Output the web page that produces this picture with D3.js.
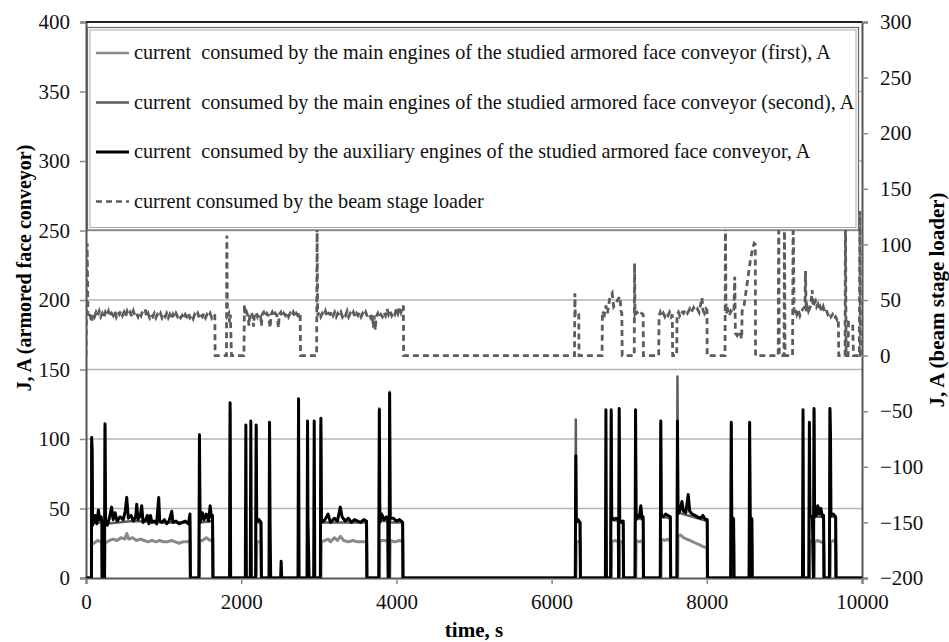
<!DOCTYPE html>
<html>
<head>
<meta charset="utf-8">
<script src="https://cdn.jsdelivr.net/npm/d3@7"></script>
<style>
  body { margin: 0; background: #fff; }
  text { font-family: "Liberation Serif", "Times New Roman", serif; }
</style>
</head>
<body>
<svg id="chart" width="949" height="642"></svg>
<script>
// time axis ticks and the two y axes
var timeTicks = [0, 2000, 4000, 6000, 8000, 10000];
var leftTicks = [0, 50, 100, 150, 200, 250, 300, 350, 400];
var rightTicks = [-200, -150, -100, -50, 0, 50, 100, 150, 200, 250, 300];

var legendLabels = [
  "current  consumed by the main engines of the studied armored face conveyor (first), A",
  "current  consumed by the main engines of the studied armored face conveyor (second), A",
  "current  consumed by the auxiliary engines of the studied armored face conveyor, A",
  "current consumed by the beam stage loader"
];

// [time s, current A]
var firstMain = [
  [0,0],[70,0],[73,24],[100,25],[150,27],[200,26],[208,0],[240,0],[245,25],[300,27],[350,28],[400,27],
  [450,29],[500,28],[525,32],[550,28],[600,29],[650,27],[700,28],[750,27],[800,26],[850,27],[900,26],
  [950,27],[1000,26],[1050,26],[1100,27],[1150,26],[1200,25],[1250,26],[1300,26],[1340,27],[1345,0],
  [1460,0],[1465,27],[1500,27],[1550,29],[1600,27],[1634,28],[1636,0],
  [2195,0],[2200,26],[2255,26],[2260,0],
  [3028,0],[3032,26],[3080,27],[3120,28],[3150,26],[3200,29],[3240,27],[3280,30],[3320,27],[3380,26],
  [3440,27],[3500,26],[3560,26],[3618,26],[3620,0],
  [3782,0],[3786,27],[3850,27],[3890,26],[3895,0],[3915,0],[3920,27],[3980,26],[4040,27],[4083,26],[4085,0],
  [6314,0],[6318,26],[6370,26],[6372,0],
  [6770,0],[6775,26],[6820,27],[6860,26],[6864,0],[6874,0],[6878,26],[6922,26],[6925,0],
  [7085,0],[7090,27],[7130,26],[7178,27],[7182,0],
  [7410,0],[7414,28],[7460,27],[7500,28],[7530,26],[7533,0],
  [7625,0],[7629,30],[7660,31],[7700,29],[7740,28],[7780,27],[7820,26],[7860,25],[7900,24],[7940,23],
  [7980,22],[8003,21],[8007,0],
  [8318,0],[8322,26],[8348,26],[8350,0],
  [8555,0],[8559,26],[8583,26],[8585,0],
  [9325,0],[9330,27],[9372,26],[9375,0],[9385,0],[9390,26],[9430,27],[9470,26],[9508,25],[9511,0],
  [9590,0],[9595,26],[9630,27],[9661,26],[9664,0],[10000,0]
];

var secondMain = [
  [0,0],[70,0],[73,95],[80,40],[205,40],[208,0],[238,0],[245,108],[252,39],[600,41],[1000,40],
  [1340,40],[1345,0],
  [1455,0],[1462,100],[1470,40],[1634,41],[1636,0],
  [1850,0],[1857,120],[1864,0],
  [2186,0],[2193,108],[2200,40],[2255,40],[2260,0],
  [3020,0],[3027,110],[3034,40],[3618,40],[3620,0],
  [3773,0],[3780,122],[3787,41],[3890,41],[3895,0],[3906,0],[3913,134],[3920,40],[4083,40],[4085,0],
  [6305,0],[6312,114],[6318,41],[6370,40],[6372,0],
  [6761,0],[6768,118],[6775,42],[6860,41],[6864,0],[6871,120],[6878,41],[6923,40],[6928,0],
  [7075,0],[7082,118],[7089,43],[7180,42],[7185,0],
  [7400,0],[7407,110],[7414,44],[7530,43],[7535,0],
  [7615,0],[7622,145],[7629,47],[8005,41],[8010,0],
  [8308,0],[8315,110],[8322,43],[8348,43],[8350,0],
  [8545,0],[8552,110],[8559,43],[8583,43],[8585,0],
  [9315,0],[9322,110],[9329,44],[9372,44],[9375,0],[9382,120],[9389,44],[9505,44],[9511,0],
  [9580,0],[9587,120],[9594,44],[9663,44],[9665,0],[10000,0]
];

var auxEngine = [
  [0,0],[70,0],[73,101],[80,92],[85,38],[100,40],[120,45],[140,39],[160,49],[175,42],[195,44],[205,40],
  [208,0],[238,0],[245,111],[252,40],[275,38],[300,43],[330,51],[350,42],[375,47],[400,41],[440,44],
  [480,42],[505,48],[525,58],[545,43],[580,45],[610,41],[640,44],[654,53],[670,42],[700,45],[718,52],
  [735,40],[770,42],[790,45],[810,39],[830,45],[850,40],[880,41],[910,39],[937,58],[950,41],[980,40],
  [1010,42],[1040,39],[1070,41],[1105,48],[1120,40],[1160,41],[1200,39],[1240,40],[1280,41],[1320,39],
  [1340,46],[1345,0],
  [1455,0],[1462,103],[1470,40],[1500,47],[1520,42],[1550,46],[1580,41],[1600,52],[1615,44],[1630,45],[1636,0],
  [1850,0],[1857,126],[1864,0],
  [2053,0],[2060,110],[2067,0],[2117,0],[2124,113],[2131,0],[2186,0],[2193,110],[2200,41],[2230,42],
  [2255,40],[2260,0],
  [2358,0],[2365,112],[2372,40],[2380,0],
  [2508,0],[2515,12],[2522,0],
  [2732,0],[2739,129],[2746,0],[2848,0],[2855,113],[2860,43],[2875,0],[2934,0],[2941,113],[2948,0],
  [3020,0],[3027,115],[3034,40],[3060,41],[3080,42],[3120,46],[3150,40],[3200,43],[3240,41],[3277,51],
  [3300,44],[3340,41],[3380,43],[3420,40],[3460,42],[3500,41],[3540,40],[3580,42],[3615,41],[3620,0],
  [3773,0],[3780,121],[3787,40],[3810,46],[3840,42],[3870,44],[3890,42],[3895,0],[3906,0],[3913,133],
  [3920,43],[3960,43],[4000,41],[4040,42],[4080,40],[4085,0],
  [6305,0],[6312,88],[6318,40],[6340,42],[6365,40],[6372,0],
  [6693,0],[6700,121],[6707,0],[6761,0],[6768,121],[6775,44],[6800,42],[6830,43],[6860,42],[6864,0],
  [6871,122],[6878,42],[6900,40],[6923,41],[6928,0],
  [7075,0],[7082,121],[7089,42],[7110,45],[7130,44],[7150,52],[7165,43],[7180,44],[7185,0],
  [7400,0],[7407,113],[7414,45],[7440,44],[7470,46],[7500,45],[7530,44],[7535,0],
  [7615,0],[7622,113],[7629,46],[7650,48],[7680,55],[7700,48],[7730,47],[7760,60],[7780,48],[7810,46],
  [7850,45],[7880,44],[7920,43],[7950,45],[7980,42],[8005,42],[8010,0],
  [8308,0],[8315,112],[8322,44],[8345,42],[8350,0],
  [8545,0],[8552,112],[8559,44],[8580,42],[8585,0],
  [9233,0],[9240,121],[9247,0],[9315,0],[9322,112],[9329,45],[9360,44],[9375,0],[9382,122],[9389,44],
  [9410,45],[9430,52],[9450,46],[9470,50],[9490,44],[9505,45],[9511,0],
  [9580,0],[9587,122],[9594,104],[9600,45],[9630,46],[9660,44],[9665,0],[10000,0]
];

// beam stage loader, right axis
var beamLoader = [
  [0,0],[15,101],[25,36],[45,39],[60,34],[73,30],[90,38],[110,35],[130,39],[150,36],[170,40],[190,35],
  [210,38],[230,34],[250,39],[270,36],[290,40],[310,35],[330,38],[350,36],[370,40],[390,35],[410,39],
  [430,37],[450,40],[470,36],[490,39],[510,35],[530,40],[550,37],[570,39],[590,35],[610,40],[630,36],
  [650,38],[670,35],[690,39],[710,36],[730,40],[761,42],[780,35],[800,38],[820,34],[840,37],[860,35],
  [880,38],[900,34],[920,37],[940,35],[960,38],[980,34],[1000,37],[1020,35],[1040,38],[1060,34],
  [1080,37],[1100,33],[1120,37],[1140,34],[1160,38],[1180,35],[1200,37],[1220,34],[1240,36],[1260,33],
  [1280,37],[1300,35],[1320,38],[1340,34],[1360,36],[1380,33],[1400,37],[1420,35],[1440,38],[1460,34],
  [1480,37],[1500,35],[1520,38],[1540,34],[1560,37],[1580,35],[1600,38],[1620,34],[1640,37],[1660,36],
  [1664,0],
  [1810,0],[1815,108],[1822,36],[1840,38],[1850,30],[1860,37],[1875,0],
  [2035,0],[2042,46],[2050,36],[2070,39],[2090,35],[2100,27],[2110,36],[2130,39],[2150,35],[2160,26],
  [2170,37],[2190,39],[2210,35],[2230,38],[2250,36],[2260,27],[2270,37],[2290,39],[2310,35],[2330,38],
  [2350,36],[2374,25],[2385,37],[2400,39],[2420,35],[2440,38],[2460,36],[2481,25],[2490,37],[2510,39],
  [2530,35],[2550,38],[2570,36],[2590,39],[2610,35],[2630,38],[2650,36],[2670,39],[2690,35],[2710,38],
  [2730,36],[2750,39],[2760,37],[2765,0],
  [2972,0],[2978,115],[2985,36],[3005,39],[3025,35],[3045,38],[3065,36],[3085,40],[3105,35],[3125,38],
  [3145,37],[3165,40],[3185,36],[3205,39],[3225,35],[3245,38],[3265,36],[3285,39],[3305,35],[3325,38],
  [3345,36],[3365,40],[3385,35],[3405,38],[3425,36],[3445,39],[3465,35],[3485,38],[3505,36],[3525,39],
  [3545,35],[3565,38],[3585,36],[3605,39],[3625,35],[3650,37],[3670,34],[3690,37],[3703,25],[3712,36],
  [3728,23],[3740,35],[3760,38],[3780,34],[3800,37],[3820,35],[3840,39],[3860,36],[3880,42],[3900,37],
  [3920,40],[3940,36],[3960,39],[3980,37],[4000,42],[4020,38],[4040,44],[4060,39],[4075,43],[4090,45],
  [4093,0],
  [6295,0],[6300,56],[6306,36],[6330,38],[6350,37],[6353,0],
  [6650,0],[6655,40],[6680,37],[6700,45],[6720,38],[6750,52],[6781,56],[6800,44],[6830,47],[6850,50],
  [6880,53],[6895,40],[6905,38],[6910,0],
  [7065,0],[7069,83],[7075,37],[7100,39],[7130,36],[7160,38],[7180,37],[7183,0],
  [7380,0],[7385,36],[7400,39],[7420,35],[7440,38],[7460,35],[7480,38],[7500,36],[7520,39],[7540,35],
  [7555,37],[7560,0],
  [7612,0],[7617,37],[7635,39],[7650,36],[7670,40],[7700,38],[7720,41],[7750,38],[7780,42],[7800,39],
  [7830,43],[7850,40],[7880,42],[7900,39],[7938,52],[7950,41],[7970,38],[7990,42],[8002,41],[8005,0],
  [8235,0],[8240,120],[8248,38],[8270,41],[8290,36],[8310,40],[8330,38],[8350,42],[8360,71],[8368,20],
  [8390,18],[8420,22],[8450,15],[8455,40],[8480,45],[8500,55],[8530,70],[8560,85],[8590,96],[8610,101],
  [8625,100],[8628,0],
  [8920,0],[8927,130],[8934,0],[8995,0],[9001,130],[9008,0],[9105,0],[9113,130],[9125,38],[9145,41],
  [9160,37],[9180,41],[9200,36],[9220,40],[9240,42],[9265,44],[9272,76],[9280,40],[9295,44],[9310,40],
  [9340,45],[9358,59],[9370,44],[9385,47],[9400,49],[9415,44],[9430,46],[9445,41],[9460,44],[9480,40],
  [9500,44],[9520,39],[9540,41],[9560,37],[9580,39],[9600,35],[9620,37],[9640,33],[9660,35],[9680,32],
  [9695,33],[9700,0],
  [9782,0],[9787,130],[9795,0],[9820,0],[9826,30],[9880,28],[9890,0],[9966,0],[9972,130],[9980,0],[10000,0]
];

(function() {
  var svg = d3.select("#chart");
  var plotLeft = 86, plotRight = 862, plotTop = 22, plotBottom = 578;

  var x = d3.scaleLinear().domain([0, 10000]).range([plotLeft, plotRight]);
  var yLeft = d3.scaleLinear().domain([0, 400]).range([plotBottom, plotTop]);
  var yRight = d3.scaleLinear().domain([-200, 300]).range([plotBottom, plotTop]);

  svg.append("defs").append("clipPath").attr("id", "plotClip")
    .append("rect").attr("x", plotLeft).attr("y", plotTop)
    .attr("width", plotRight - plotLeft).attr("height", plotBottom - plotTop);

  // grid
  svg.append("g")
    .selectAll("line")
    .data(leftTicks.filter(function(d) { return d > 0 && d < 400; }))
    .enter().append("line")
    .attr("x1", plotLeft).attr("x2", plotRight)
    .attr("y1", function(d) { return yLeft(d); })
    .attr("y2", function(d) { return yLeft(d); })
    .attr("stroke", "#b4b4b4").attr("stroke-width", 1.5);

  // axes
  var axisLeft = svg.append("g").attr("transform", "translate(" + plotLeft + ",0)")
    .call(d3.axisLeft(yLeft).tickValues(leftTicks).tickSize(6).tickPadding(10));
  var axisRight = svg.append("g").attr("transform", "translate(" + plotRight + ",0)")
    .call(d3.axisRight(yRight).tickValues(rightTicks).tickSize(6).tickPadding(12));
  var axisBottom = svg.append("g").attr("transform", "translate(0," + plotBottom + ")")
    .call(d3.axisBottom(x).tickValues(timeTicks).tickFormat(d3.format("d")).tickSize(6).tickPadding(10));

  [axisLeft, axisRight, axisBottom].forEach(function(a) {
    a.selectAll(".domain").attr("stroke", "#555").attr("stroke-width", 2);
    a.selectAll(".tick line").attr("stroke", "#888").attr("stroke-width", 1.5);
    a.selectAll("text").attr("fill", "#111").style("font-size", "21px")
      .style("font-family", "'Liberation Serif', serif");
  });

  // top frame
  svg.append("line").attr("x1", plotLeft).attr("x2", plotRight).attr("y1", plotTop).attr("y2", plotTop)
    .attr("stroke", "#222").attr("stroke-width", 2);

  var lineLeft = d3.line().x(function(d) { return x(d[0]); }).y(function(d) { return yLeft(d[1]); });
  var lineRight = d3.line().x(function(d) { return x(d[0]); }).y(function(d) { return yRight(d[1]); });

  var plot = svg.append("g").attr("clip-path", "url(#plotClip)");

  plot.append("path").datum(firstMain).attr("d", lineLeft)
    .attr("fill", "none").attr("stroke", "#8a8a8a").attr("stroke-width", 3).attr("stroke-linejoin", "round");
  plot.append("path").datum(secondMain).attr("d", lineLeft)
    .attr("fill", "none").attr("stroke", "#5c5c5c").attr("stroke-width", 2.5).attr("stroke-linejoin", "round");
  plot.append("path").datum(auxEngine).attr("d", lineLeft)
    .attr("fill", "none").attr("stroke", "#000").attr("stroke-width", 3).attr("stroke-linejoin", "round");
  plot.append("path").datum(beamLoader).attr("d", lineRight)
    .attr("fill", "none").attr("stroke", "#5c5c5c").attr("stroke-width", 2.8)
    .attr("stroke-dasharray", "6,4");

  // legend
  var lg = svg.append("g");
  lg.append("rect").attr("x", 87.5).attr("y", 27.5).attr("width", 771).attr("height", 202.5)
    .attr("fill", "#fff").attr("stroke", "#666").attr("stroke-width", 1.2);
  lg.append("rect").attr("x", 90).attr("y", 30).attr("width", 766).attr("height", 197.5)
    .attr("fill", "none").attr("stroke", "#aaa").attr("stroke-width", 1);

  var legendStyles = [
    { color: "#8a8a8a", width: 2.5, dash: null },
    { color: "#5c5c5c", width: 2.5, dash: null },
    { color: "#000", width: 3, dash: null },
    { color: "#5c5c5c", width: 2.5, dash: "6,4" }
  ];

  legendLabels.forEach(function(label, i) {
    var yy = 53 + i * 49.5;
    lg.append("line").attr("x1", 96).attr("x2", 129).attr("y1", yy).attr("y2", yy)
      .attr("stroke", legendStyles[i].color).attr("stroke-width", legendStyles[i].width)
      .attr("stroke-dasharray", legendStyles[i].dash);
    lg.append("text").attr("x", 134).attr("y", yy + 6)
      .style("font-size", "20.2px").style("white-space", "pre").attr("fill", "#111")
      .text(label);
  });

  // axis titles
  svg.append("text").attr("transform", "translate(31,268) rotate(-90)")
    .attr("text-anchor", "middle").style("font-size", "20px").style("font-weight", "bold")
    .text("J, A (armored face conveyor)");
  svg.append("text").attr("transform", "translate(944,300) rotate(-90)")
    .attr("text-anchor", "middle").style("font-size", "21px").style("font-weight", "bold")
    .text("J, A (beam stage loader)");
  svg.append("text").attr("x", 474).attr("y", 637)
    .attr("text-anchor", "middle").style("font-size", "21px").style("font-weight", "bold")
    .text("time, s");
})();
</script>
</body>
</html>
